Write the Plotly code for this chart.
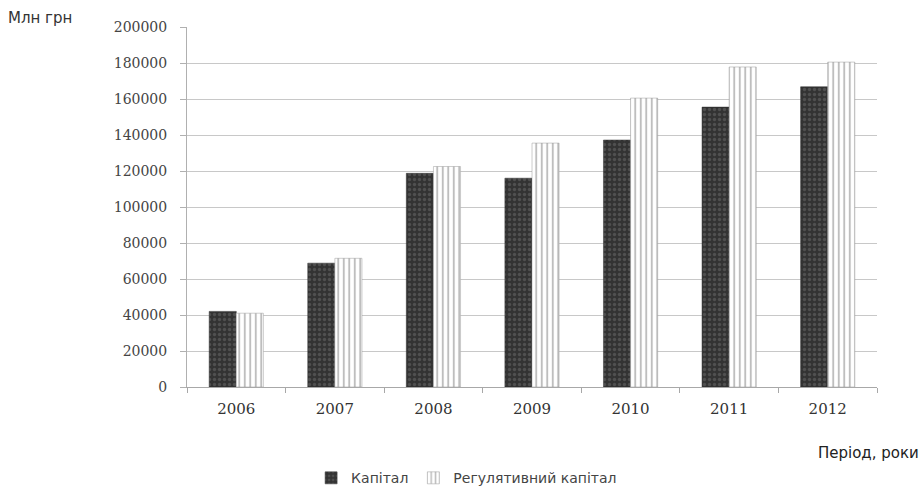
import plotly.graph_objects as go

# Роки та показники капіталу банківської системи, млн грн
years = ["2006", "2007", "2008", "2009", "2010", "2011", "2012"]
capital = [42000, 68800, 118700, 116000, 137200, 155500, 166800]
regulatory_capital = [41000, 71500, 122500, 135500, 160500, 177800, 180500]
y_ticks = [0, 20000, 40000, 60000, 80000, 100000, 120000, 140000, 160000, 180000, 200000]

fig = go.Figure()

fig.add_trace(go.Bar(
    x=years, y=capital, name="Капітал",
    marker=dict(
        color="#3a3a3a",
        line=dict(color="#2e2e2e", width=0.5),
        pattern=dict(shape=".", fgcolor="#6e6e6e", bgcolor="#333333", size=5, solidity=0.35),
    ),
))
fig.add_trace(go.Bar(
    x=years, y=regulatory_capital, name="Регулятивний капітал",
    marker=dict(
        color="#ffffff",
        line=dict(color="#9a9a9a", width=0.5),
        pattern=dict(shape="|", fgcolor="#7e7e7e", bgcolor="#ffffff", size=5.5, solidity=0.35),
    ),
))

serif = "DejaVu Serif, Times New Roman, serif"
sans = "DejaVu Sans, Arial, sans-serif"

fig.update_layout(
    width=924, height=489,
    margin=dict(l=187, r=47, t=27, b=102, autoexpand=False),
    paper_bgcolor="white", plot_bgcolor="white",
    barmode="group", bargap=0.45, bargroupgap=0.0,
    showlegend=True,
    legend=dict(
        orientation="h",
        xref="container", yref="container",
        x=0.505, xanchor="center", y=0.022, yanchor="middle",
        font=dict(family=sans, size=14, color="#444444"),
        itemwidth=30, traceorder="normal",
    ),
    xaxis=dict(
        type="category",
        showgrid=False,
        showline=True, linecolor="#a8a8a8", linewidth=1,
        ticks="outside", tickson="boundaries", ticklen=5, tickcolor="#a8a8a8",
        tickfont=dict(family=serif, size=15, color="#333333"),
        ticklabelstandoff=8,
    ),
    yaxis=dict(
        range=[0, 200000],
        tickvals=y_ticks, tickformat="d",
        showgrid=True, gridcolor="#c8c8c8", gridwidth=1,
        showline=True, linecolor="#b0b0b0", linewidth=1,
        ticks="outside", ticklen=6, tickcolor="#b0b0b0",
        tickfont=dict(family=serif, size=14, color="#444444"),
        ticklabelstandoff=10,
        zeroline=False,
    ),
    annotations=[
        dict(text="Млн грн", xref="paper", yref="paper", x=-0.262, y=1.025,
             xanchor="left", yanchor="middle", showarrow=False,
             font=dict(family=sans, size=15, color="#333333")),
        dict(text="Період, роки", xref="paper", yref="paper", x=1.064, y=-0.183,
             xanchor="right", yanchor="middle", showarrow=False,
             font=dict(family=sans, size=15, color="#222222")),
    ],
)

fig.write_html("out.html")
